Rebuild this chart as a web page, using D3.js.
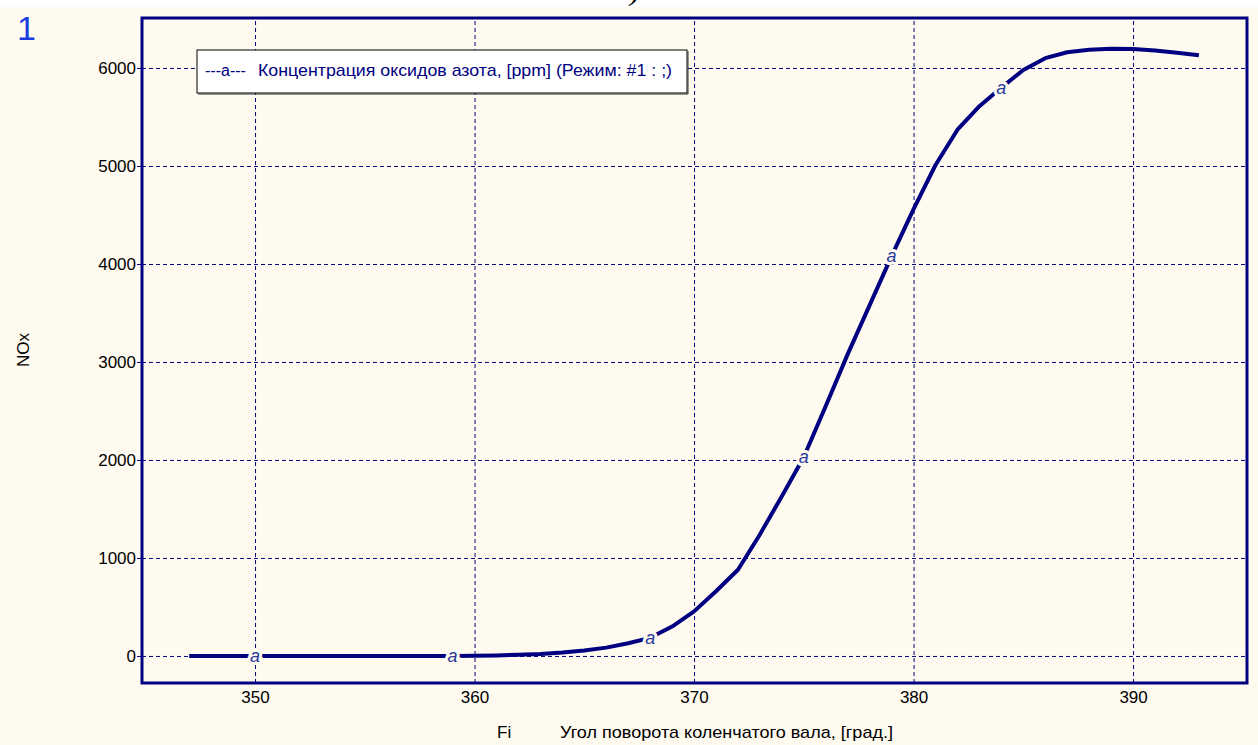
<!DOCTYPE html>
<html>
<head>
<meta charset="utf-8">
<script src="https://cdn.jsdelivr.net/npm/d3@7"></script>
<style>
  body { margin: 0; background: #fffaf0; }
  svg { display: block; }
</style>
</head>
<body>
<script>
// crank angle, degrees
var fi = [347, 348, 349, 350, 351, 352, 353, 354, 355, 356, 357, 358, 359, 360,
  361, 362, 363, 364, 365, 366, 367, 368, 369, 370, 371, 372, 373, 374, 375, 376,
  377, 378, 379, 380, 381, 382, 383, 384, 385, 386, 387, 388, 389, 390, 391, 392, 393];
// NOx concentration, ppm
var nox = [0, 0, 0, 0, 0, 0, 0, 0, 0, 0, 0, 0, 0, 2,
  5, 12, 20, 35, 55, 85, 130, 185, 300, 455, 660, 880, 1240, 1630, 2030, 2550,
  3080, 3580, 4080, 4560, 5010, 5370, 5610, 5800, 5980, 6100, 6160, 6185, 6195, 6193, 6178, 6155, 6130];
// where the "a" labels sit on the curve
var markerFi = [350, 359, 368, 375, 379, 384];

var xTicks = [350, 360, 370, 380, 390];
var yTicks = [0, 1000, 2000, 3000, 4000, 5000, 6000];

var legendMark = "---a---";
var legendLabel = "Концентрация оксидов азота, [ppm] (Режим: #1 : ;)";
var xName = "Fi";
var xTitle = "Угол поворота коленчатого вала, [град.]";
var yTitle = "NOx";

var svgWidth = 1258;
var svgHeight = 745;

var chartMargin = { top: 18, right: 11, bottom: 62, left: 142 };
var chartWidth = svgWidth - chartMargin.left - chartMargin.right;
var chartHeight = svgHeight - chartMargin.top - chartMargin.bottom;

var navy = "#000080";
var cream = "#fffaf0";

var data = fi.map(function(f, i) { return { fi: f, nox: nox[i] }; });

var svg = d3.select("body")
  .append("svg")
  .attr("width", svgWidth)
  .attr("height", svgHeight)
  .style("font-family", "'Liberation Sans', Arial, sans-serif");

svg.append("rect")
  .attr("width", svgWidth)
  .attr("height", svgHeight)
  .attr("fill", cream);

// white strip on top with the cut-off bracket of a previous line
svg.append("rect")
  .attr("width", svgWidth)
  .attr("height", 7)
  .attr("fill", "#ffffff");
svg.append("text")
  .attr("x", 630)
  .attr("y", 0)
  .attr("font-family", "'Liberation Serif', serif")
  .attr("font-style", "italic")
  .attr("font-size", 30)
  .text(")");

svg.append("text")
  .attr("x", 17)
  .attr("y", 40)
  .attr("fill", "#1a3de0")
  .attr("font-size", 34)
  .text("1");

var chartGroup = svg.append("g")
  .attr("transform", `translate(${chartMargin.left}, ${chartMargin.top})`);

var xScale = d3.scaleLinear()
  .domain([344.85, 395.19])
  .range([0, chartWidth]);

var yScale = d3.scaleLinear()
  .domain([-276, 6510])
  .range([chartHeight, 0]);

// dashed grid
chartGroup.append("g")
  .attr("class", "grid")
  .call(d3.axisLeft(yScale).tickValues(yTicks).tickSize(-chartWidth).tickFormat(""))
  .call(g => g.select(".domain").remove());
chartGroup.append("g")
  .attr("class", "grid")
  .attr("transform", `translate(0, ${chartHeight})`)
  .call(d3.axisBottom(xScale).tickValues(xTicks).tickSize(-chartHeight).tickFormat(""))
  .call(g => g.select(".domain").remove());
chartGroup.selectAll(".grid line")
  .attr("stroke", navy)
  .attr("stroke-width", 1)
  .attr("stroke-dasharray", "4,3");

// axes labels
var leftAxis = chartGroup.append("g")
  .call(d3.axisLeft(yScale).tickValues(yTicks).tickFormat(d3.format("d")).tickSize(5).tickPadding(1));
leftAxis.select(".domain").remove();
leftAxis.selectAll("line").attr("stroke", navy);
leftAxis.selectAll("text")
  .attr("font-family", "'Liberation Sans', Arial, sans-serif")
  .attr("font-size", 17)
  .attr("fill", "#000");

var bottomAxis = chartGroup.append("g")
  .attr("transform", `translate(0, ${chartHeight})`)
  .call(d3.axisBottom(xScale).tickValues(xTicks).tickFormat(d3.format("d")).tickSize(0).tickPadding(8));
bottomAxis.select(".domain").remove();
bottomAxis.selectAll("text")
  .attr("font-family", "'Liberation Sans', Arial, sans-serif")
  .attr("font-size", 17)
  .attr("fill", "#000");

// curve
var line = d3.line()
  .x(d => xScale(d.fi))
  .y(d => yScale(d.nox));

chartGroup.append("path")
  .datum(data)
  .attr("fill", "none")
  .attr("stroke", navy)
  .attr("stroke-width", 4)
  .attr("stroke-linejoin", "round")
  .attr("d", line);

// "a" markers
var markers = data.filter(d => markerFi.indexOf(d.fi) >= 0);
chartGroup.selectAll(".mark")
  .data(markers)
  .enter()
  .append("text")
  .attr("class", "mark")
  .attr("x", d => xScale(d.fi))
  .attr("y", d => yScale(d.nox) + 6)
  .attr("text-anchor", "middle")
  .attr("font-size", 18)
  .attr("font-style", "italic")
  .attr("fill", "#2a3a9a")
  .attr("stroke", cream)
  .attr("stroke-width", 6)
  .attr("paint-order", "stroke")
  .text("a");

// frame
chartGroup.append("rect")
  .attr("width", chartWidth)
  .attr("height", chartHeight)
  .attr("fill", "none")
  .attr("stroke", navy)
  .attr("stroke-width", 3);

// legend
svg.append("rect")
  .attr("x", 197)
  .attr("y", 50)
  .attr("width", 490)
  .attr("height", 43)
  .attr("fill", "#ffffff")
  .attr("stroke", "#000")
  .attr("stroke-width", 1);
svg.append("path")
  .attr("d", "M198,94 H688 V51")
  .attr("fill", "none")
  .attr("stroke", "#333")
  .attr("stroke-width", 1);
svg.append("text")
  .attr("x", 205)
  .attr("y", 76)
  .attr("font-size", 16)
  .attr("fill", navy)
  .text(legendMark);
svg.append("text")
  .attr("x", 258)
  .attr("y", 76)
  .attr("font-size", 17)
  .attr("fill", navy)
  .attr("textLength", 414)
  .attr("lengthAdjust", "spacingAndGlyphs")
  .text(legendLabel);

// axis titles
svg.append("text")
  .attr("x", 497)
  .attr("y", 738)
  .attr("font-size", 17)
  .text(xName);
svg.append("text")
  .attr("x", 560)
  .attr("y", 738)
  .attr("font-size", 17)
  .attr("textLength", 333)
  .attr("lengthAdjust", "spacingAndGlyphs")
  .text(xTitle);
svg.append("text")
  .attr("transform", "translate(29, 350) rotate(-90)")
  .attr("text-anchor", "middle")
  .attr("font-size", 17)
  .text(yTitle);
</script>
</body>
</html>
